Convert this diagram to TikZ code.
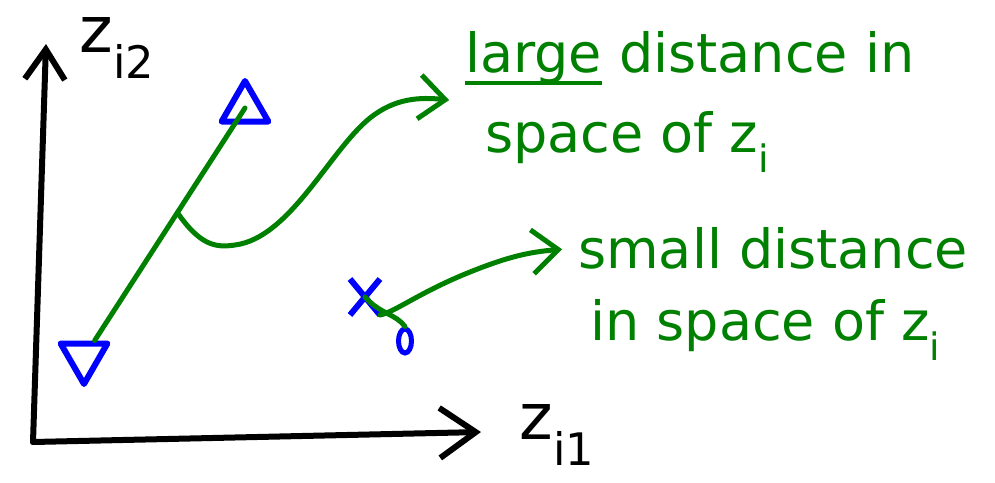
\documentclass[tikz,border=0pt]{standalone}
\usepackage{fontspec}
\setmainfont{DejaVu Sans}
\usetikzlibrary{arrows.meta,shapes.geometric,shapes.misc}
\definecolor{inkgreen}{HTML}{008000}
\definecolor{inkblue}{HTML}{0000FF}
\newcommand\heavyul[1]{\setbox0=\hbox{#1}\rlap{\rule[-13pt]{\wd0}{4pt}}\box0\relax}
\tikzset{
  axis/.style={draw=black, line width=6pt, line cap=round, line join=round},
  axlabel/.style={font=\fontsize{64}{70}\selectfont, inner sep=0pt},
  note/.style={text=inkgreen, font=\fontsize{54}{80}\selectfont, inner sep=0pt, align=left},
  link/.style={draw=inkgreen, line width=5pt, line cap=round, line join=round},
  pointer/.style={link, -{Straight Barb[length=26pt,width=44pt]}, shorten >=16pt},
  tri/.style={regular polygon, regular polygon sides=3, draw=inkblue, line width=6pt, minimum size=54pt, inner sep=0pt, line join=round},
  xmark/.style={cross out, draw=inkblue, line width=6pt, minimum width=24pt, minimum height=30pt, inner sep=0pt},
  omark/.style={ellipse, draw=inkblue, line width=5pt, minimum width=13pt, minimum height=24pt, inner sep=0pt},
}
\begin{document}
\begin{tikzpicture}[x=1pt,y=-1pt]
  \useasboundingbox (0,0) rectangle (995,482);
  % axes
  \coordinate (O) at (33,442);
  \coordinate (ytop) at (46,44);
  \coordinate (xend) at (481,432);
  \draw[axis, -{Straight Barb[length=30pt,width=40pt]}] (O) -- (ytop);
  \draw[axis, -{Straight Barb[length=36pt,width=50pt]}] (O) -- (xend);
  \node[axlabel] (zy) at (117,48) {z\textsubscript{i2}};
  \node[axlabel] (zx) at (557,435) {z\textsubscript{i1}};
  % points
  \node[tri] (uptri) at (245,108) {};
  \node[tri, shape border rotate=180] (lowtri) at (84,357) {};
  \node[xmark] (xpt) at (365,297) {};
  \node[omark] (opt) at (405,341) {};
  % notes
  \node[note, anchor=north west] (big) at (465,31)
    {\heavyul{large} distance in\\\hspace*{20pt}space of z\textsubscript{i}};
  \node[note, anchor=base west] (small) at (578,268) {small distance};
  \node[note, anchor=base west] (small2) at (590,340) {in space of z\textsubscript{i}};
  % distances
  \draw[link] (lowtri) -- coordinate[pos=0.55] (mid) (uptri.center);
  \draw[pointer] (mid) .. controls (200,245) and (215,248) .. (235,245)
    .. controls (290,238) and (330,150) .. (370,118)
    .. controls (395,98) and (420,97) .. (big.west);
  \draw[link] (xpt.center) .. controls (380,314) and (396,314) .. (opt.north);
  \draw[pointer] (xpt.south east) .. controls (395,312) and (420,292) .. (470,272)
    .. controls (510,256) and (530,252) .. (small.west);
\end{tikzpicture}
\end{document}
